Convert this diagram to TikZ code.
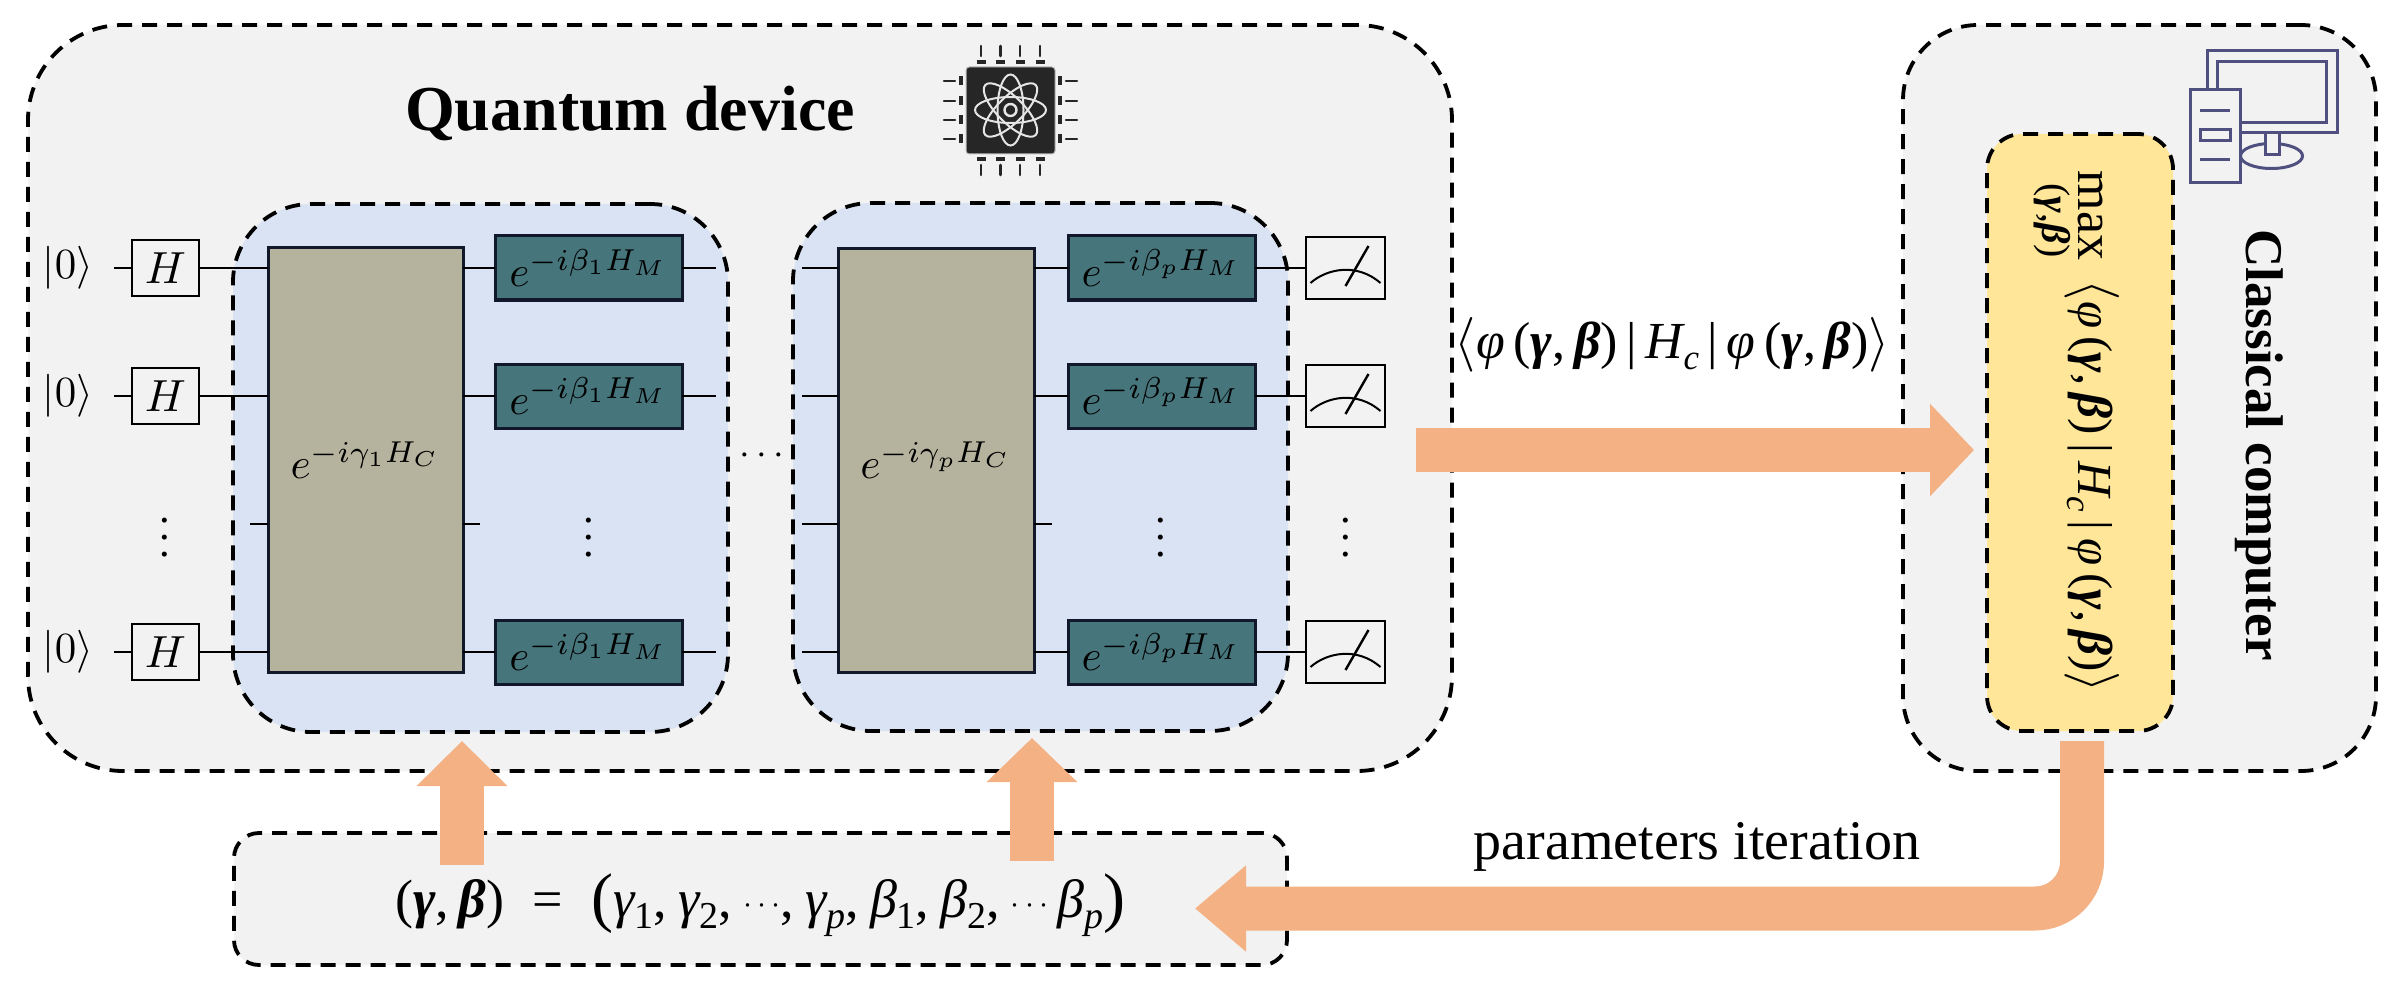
\documentclass[tikz,border=0pt]{standalone}
\usepackage{fontspec}
\usepackage{graphicx}
\setmainfont{Liberation Serif}
\usetikzlibrary{arrows.meta}
\definecolor{greybg}{HTML}{F2F2F2}
\definecolor{bluebg}{HTML}{DAE3F3}
\definecolor{yellowbg}{HTML}{FFE699}
\definecolor{orangearrow}{HTML}{F4B183}
\definecolor{gategrey}{HTML}{B5B39E}
\definecolor{gateteal}{HTML}{46757C}
\definecolor{gateline}{HTML}{10182A}
\definecolor{chipdark}{HTML}{262626}
\definecolor{pcline}{HTML}{4F4F80}
\newcommand\fsz[1]{\fontsize{#1}{#1}\selectfont}
\newcommand\phiit{{\itshape φ}}
\newcommand\bg{{\bfseries\itshape γ}}
\newcommand\bb{{\bfseries\itshape β}}
\newcommand\itg{{\itshape γ}}
\newcommand\itb{{\itshape β}}
\newcommand\lowsub[1]{\raisebox{-.22em}{\fsz{35}#1}}
\newcommand\lowsubb[1]{\raisebox{-.22em}{\fsz{38}#1}}
\newcommand\cmm{,\kern11pt}
\newcommand\mydots{\raisebox{4pt}{\scalebox{1.3}{$\cdots$}}}
\newcommand\expect{\scalebox{2.2}{$\langle$}\phiit\,(\bg,\,\bb)\,|\,{\itshape H}\lowsub{\itshape c}\,|\,\phiit\,(\bg,\,\bb)\scalebox{2.2}{$\rangle$}}
\tikzset{
  dbox/.style={draw=black,line width=3.8pt,dash pattern=on 15pt off 10pt,inner sep=0pt,outer sep=0pt},
  hgate/.style={draw=black,line width=2pt,minimum width=67pt,minimum height=56pt,inner sep=0pt,outer sep=0pt},
  cgate/.style={draw=gateline,line width=3pt,fill=gategrey,minimum width=195pt,minimum height=424pt,inner sep=0pt,outer sep=0pt},
  mgate/.style={draw=gateline,line width=3pt,fill=gateteal,minimum width=187pt,minimum height=64pt,inner sep=0pt,outer sep=0pt},
  meterbox/.style={draw=black,line width=2pt,minimum width=79pt,minimum height=62pt,inner sep=0pt,outer sep=0pt},
  wire/.style={draw=black,line width=2.2pt},
  mathlabel/.style={scale=4.32,inner sep=0pt},
  ketlabel/.style={scale=4.3,inner sep=0pt},
  hlabel/.style={scale=4.5,inner sep=0pt},
  dotslabel/.style={scale=4.25,inner sep=0pt},
  bigarrow/.style={draw=orangearrow,line width=44pt},
  pcstroke/.style={draw=pcline,line width=3pt},
  chippin/.style={draw=chipdark,line width=2.6pt,line cap=round},
  chippad/.style={draw=chipdark,line width=4.5pt},
  orbit/.style={draw=white!90!black,line width=2pt}
}
\begin{document}
\begin{tikzpicture}[x=1pt,y=-1pt]
\path[use as bounding box,fill=white] (0,0) rectangle (2406,992);
% containers
\node[dbox,fill=greybg,rounded corners=95pt,minimum width=1424pt,minimum height=746pt] (qd) at (740,398) {};
\node[dbox,fill=greybg,rounded corners=75pt,minimum width=473pt,minimum height=746pt] (cc) at (2139.5,398) {};
\node[dbox,fill=bluebg,rounded corners=78pt,minimum width=495pt,minimum height=528pt] (layerA) at (480.5,468) {};
\node[dbox,fill=bluebg,rounded corners=78pt,minimum width=495pt,minimum height=528pt] (layerB) at (1040.5,467) {};
\node[dbox,fill=yellowbg,rounded corners=35pt,minimum width=186pt,minimum height=597pt] (opt) at (2080,432.5) {};
\node[dbox,fill=greybg,rounded corners=25pt,minimum width=1053pt,minimum height=132pt] (params) at (760.5,899) {};
% titles
\node[inner sep=0pt,font=\fsz{64}\bfseries] (qt) at (630,113) {Quantum device};
\node[inner sep=0pt,anchor=base,rotate=-90,font=\fsz{53}\bfseries] (ct) at (2246,445) {Classical computer};
% kets
\node[ketlabel] (k1) at (68,268) {$|0\rangle$};
\node[ketlabel] (k2) at (68,396) {$|0\rangle$};
\node[ketlabel] (k4) at (68,652) {$|0\rangle$};
% H gates
\node[hgate] (h1) at (165.5,268) {};
\node[hgate] (h2) at (165.5,396) {};
\node[hgate] (h4) at (165.5,652) {};
\node[hlabel] at (h1) {$H$};
\node[hlabel] at (h2) {$H$};
\node[hlabel] at (h4) {$H$};
% big gates
\node[cgate] (ca) at (365.5,460) {};
\node[mathlabel] at (ca) {$e^{-i\gamma_1 H_C}$};
\node[cgate,minimum width=196pt] (cb) at (936,460.5) {};
\node[mathlabel] at (cb) {$e^{-i\gamma_p H_C}$};
% mixer gates
\foreach \n/\y in {1/268,2/396,4/652}{
  \node[mgate] (ma\n) at (588.5,\y) {};
  \node[mathlabel] at (ma\n) {$e^{-i\beta_1 H_M}$};
  \node[mgate] (mb\n) at (1161.5,\y) {};
  \node[mathlabel] at (mb\n) {$e^{-i\beta_p H_M}$};
  \node[meterbox] (me\n) at (1345.5,\y) {};
  \draw[line width=2pt] ([shift={(-35,15)}]me\n.center) .. controls ([shift={(-18,0)}]me\n.center) and ([shift={(12,-5)}]me\n.center) .. ([shift={(35,15)}]me\n.center);
  \draw[line width=2.4pt] ([shift={(0,18)}]me\n.center) -- ([shift={(23,-22)}]me\n.center);
}
% wire free ends
\coordinate (sa1) at (114,268);\coordinate (sa2) at (114,396);\coordinate (sa4) at (114,652);
\coordinate (ea1) at (716,268);\coordinate (ea2) at (716,396);\coordinate (ea4) at (716,652);
\coordinate (sb1) at (802,268);\coordinate (sb2) at (802,396);\coordinate (sb3) at (802,524);\coordinate (sb4) at (802,652);
\coordinate (sa3) at (250,524);\coordinate (ta3) at (480,524);\coordinate (tb3) at (1052,524);
% wires
\foreach \n in {1,2,4}{
  \draw[wire] (sa\n) -- (h\n.west);
  \draw[wire] (h\n.east) -- (h\n.east -| ca.west);
  \draw[wire] (h\n.east -| ca.east) -- (ma\n.west);
  \draw[wire] (ma\n.east) -- (ea\n);
  \draw[wire] (sb\n) -- (sb\n -| cb.west);
  \draw[wire] (sb\n -| cb.east) -- (mb\n.west);
  \draw[wire] (mb\n.east) -- (me\n.west);
}
\draw[wire] (sa3) -- (sa3 -| ca.west);
\draw[wire] (ta3 -| ca.east) -- (ta3);
\draw[wire] (sb3) -- (sb3 -| cb.west);
\draw[wire] (tb3 -| cb.east) -- (tb3);
% dots
\node[dotslabel] (v1) at (165,525) {$\vdots$};
\node[dotslabel] (v2) at (589,525) {$\vdots$};
\node[dotslabel] (v3) at (1161,525) {$\vdots$};
\node[dotslabel] (v4) at (1346,525) {$\vdots$};
\node[dotslabel,scale=.9] (hd) at (762,456) {$\cdots$};
% chip icon
\fill[chipdark,draw=white!75!black,line width=1pt,rounded corners=3pt] (966,67) rectangle (1055,154);
\foreach \a in {981,1000.5,1020,1040}{
  \draw[chippin] (\a,46) -- (\a,56);
  \draw[chippad] (\a-4.5,62) -- (\a+4.5,62);
  \draw[chippin] (\a,165) -- (\a,175);
  \draw[chippad] (\a-4.5,159) -- (\a+4.5,159);
}
\foreach \a in {81,101,120,139}{
  \draw[chippin] (944,\a) -- (955,\a);
  \draw[chippad] (961,\a-4.5) -- (961,\a+4.5);
  \draw[chippin] (1066,\a) -- (1077,\a);
  \draw[chippad] (1060,\a-4.5) -- (1060,\a+4.5);
}
\foreach \r in {0,45,90,135}{
  \draw[orbit,rotate around={\r:(1010.5,110)}] (1010.5,110) ellipse (35.5pt and 13pt);
}
\draw[orbit,line width=2.4pt] (1010.5,110) circle (6pt);
% computer icon
\draw[pcstroke] (2207,51) rectangle (2337,133);
\draw[pcstroke] (2217,62) rectangle (2326,123);
\draw[pcstroke] (2271.5,156) ellipse (31pt and 12.5pt);
\draw[pcstroke,fill=greybg] (2265,133) rectangle (2279,155);
\draw[pcstroke,fill=greybg] (2190,90) rectangle (2240,183);
\draw[pcstroke] (2200,111) -- (2230,111);
\draw[pcstroke] (2200,160) -- (2230,160);
\draw[pcstroke] (2200,130) rectangle (2230,141);
% optimiser text
\node[inner sep=0pt,anchor=base,rotate=-90,font=\fsz{52}] (mx) at (2078,215.5) {max};
\node[inner sep=0pt,anchor=base,rotate=-90,font=\fsz{40}] (mxs) at (2042,220.5) {(\bg,\bb)};
\node[inner sep=0pt,anchor=base,rotate=-90,font=\fsz{49}] (mxf) at (2078,486.5) {\expect};
% labels
\node[inner sep=0pt,anchor=base,font=\fsz{52}] (expl) at (1672.5,358) {\expect};
\node[inner sep=0pt,anchor=base,font=\fsz{56}] (itl) at (1697,859) {parameters iteration};
\node[inner sep=0pt,anchor=base,font=\fsz{54}] (pl) at (760.5,917) {(\bg,\,\bb)\; = \;\raisebox{-.05em}{\fsz{66}(}\itg\lowsubb{1}\cmm\itg\lowsubb{2}\cmm\mydots\cmm\itg\lowsubb{\itshape p}\cmm\itb\lowsubb{1}\cmm\itb\lowsubb{2}\cmm\mydots\,\itb\lowsubb{\itshape p}\raisebox{-.05em}{\fsz{66})}};
% arrows
\coordinate (ar1s) at (462,865);\coordinate (ar1t) at (462,741);
\coordinate (ar2s) at (1032,861);\coordinate (ar2t) at (1032,738);
\coordinate (ar3s) at (1416,450);\coordinate (ar3t) at (1974,450);
\coordinate (ar4s) at (2082,741);\coordinate (ar4c) at (2082,908.5);\coordinate (ar4t) at (1195,908.5);
\draw[bigarrow,-{Triangle[length=45pt,width=88pt]}] (ar1s) -- (ar1t);
\draw[bigarrow,-{Triangle[length=44pt,width=88pt]}] (ar2s) -- (ar2t);
\draw[bigarrow,-{Triangle[length=44pt,width=90pt]}] (ar3s) -- (ar3t);
\draw[bigarrow,rounded corners=47pt,-{Triangle[length=51pt,width=83pt]}] (ar4s) -- (ar4c) -- (ar4t);
\end{tikzpicture}
\end{document}
